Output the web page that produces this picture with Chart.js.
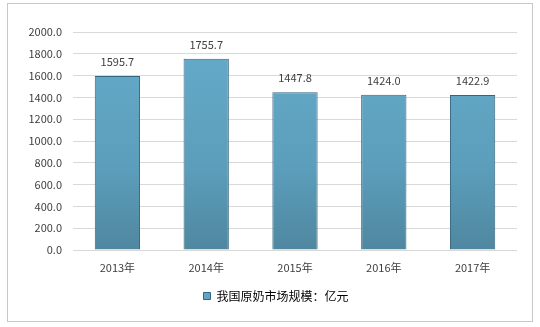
<!DOCTYPE html>
<html>
<head>
<meta charset="utf-8">
<script src="https://cdn.jsdelivr.net/npm/chart.js@4/dist/chart.umd.min.js"></script>
<style>
  html, body { margin: 0; padding: 0; background: #fff; }
  #wrap { width: 540px; height: 327px; }
</style>
</head>
<body>
<div id="wrap"><canvas id="marketChart" width="540" height="327"></canvas></div>
<script>
const years = ['2013年', '2014年', '2015年', '2016年', '2017年'];
const marketSize = [1595.7, 1755.7, 1447.8, 1424.0, 1422.9];
const seriesName = '我国原奶市场规模：亿元';
const yTicks = [0, 200, 400, 600, 800, 1000, 1200, 1400, 1600, 1800, 2000];

const FONT = '"Noto Sans CJK SC", "Liberation Sans", sans-serif';

// white background + outer frame
const framePlugin = {
    id: 'frame',
    beforeDraw(chart) {
        const ctx = chart.ctx;
        ctx.save();
        ctx.fillStyle = '#fff';
        ctx.fillRect(0, 0, chart.width, chart.height);
        ctx.strokeStyle = '#c8c8c8';
        ctx.lineWidth = 1;
        ctx.strokeRect(7.5, 3.5, 525, 318);
        ctx.restore();
    }
};

// nudge the legend a bit right, like the original
const legendShift = {
    id: 'legendShift',
    afterLayout(chart) {
        if (!chart.legend) return;
        chart.legend.left += 14;
        chart.legend.right += 14;
    }
};

// value labels above each bar
const valueLabels = {
    id: 'valueLabels',
    afterDatasetsDraw(chart) {
        const ctx = chart.ctx;
        const meta = chart.getDatasetMeta(0);
        ctx.save();
        ctx.font = '11px ' + FONT;
        ctx.fillStyle = '#404040';
        ctx.textAlign = 'center';
        ctx.textBaseline = 'middle';
        meta.data.forEach((bar, i) => {
            ctx.fillText(marketSize[i].toFixed(1), bar.x, bar.y - 14);
        });
        ctx.restore();
    }
};

function barFill(context) {
    const area = context.chart.chartArea;
    if (!area) return '#5fa6c6';
    const g = context.chart.ctx.createLinearGradient(0, area.top, 0, area.bottom);
    g.addColorStop(0, '#65abc9');
    g.addColorStop(0.6, '#5c9fbd');
    g.addColorStop(1, '#4f879f');
    return g;
}

new Chart(document.querySelector('#marketChart'), {
    type: 'bar',
    data: {
        labels: years,
        datasets: [{
            label: seriesName,
            data: marketSize,
            backgroundColor: barFill,
            borderColor: '#34647e',
            borderWidth: 1,
            categoryPercentage: 1,
            barPercentage: 0.51
        }]
    },
    options: {
        responsive: false,
        animation: false,
        layout: { padding: { left: 7, right: 23, top: 32, bottom: 15 } },
        plugins: {
            tooltip: { enabled: false },
            legend: {
                position: 'bottom',
                labels: {
                    boxWidth: 7,
                    boxHeight: 7,
                    padding: 10,
                    color: '#404040',
                    font: { family: FONT, size: 12 },
                    generateLabels() {
                        return [{
                            text: seriesName,
                            fillStyle: '#5fa6c6',
                            strokeStyle: '#34647e',
                            lineWidth: 1,
                            datasetIndex: 0
                        }];
                    }
                }
            }
        },
        scales: {
            x: {
                grid: { display: false, drawTicks: false },
                border: { display: false },
                ticks: { padding: 11, color: '#404040', font: { family: FONT, size: 11 } },
                afterFit(scale) { scale.height = 30; }
            },
            y: {
                min: 0,
                max: 2000,
                afterBuildTicks(scale) { scale.ticks = yTicks.map(v => ({ value: v })); },
                grid: { color: '#d9d9d9', drawTicks: false },
                border: { display: false },
                ticks: {
                    padding: 11,
                    color: '#404040',
                    font: { family: FONT, size: 11 },
                    callback: v => Number(v).toFixed(1)
                },
                afterFit(scale) { scale.width = 66; }
            }
        }
    },
    plugins: [framePlugin, legendShift, valueLabels]
});
</script>
</body>
</html>
